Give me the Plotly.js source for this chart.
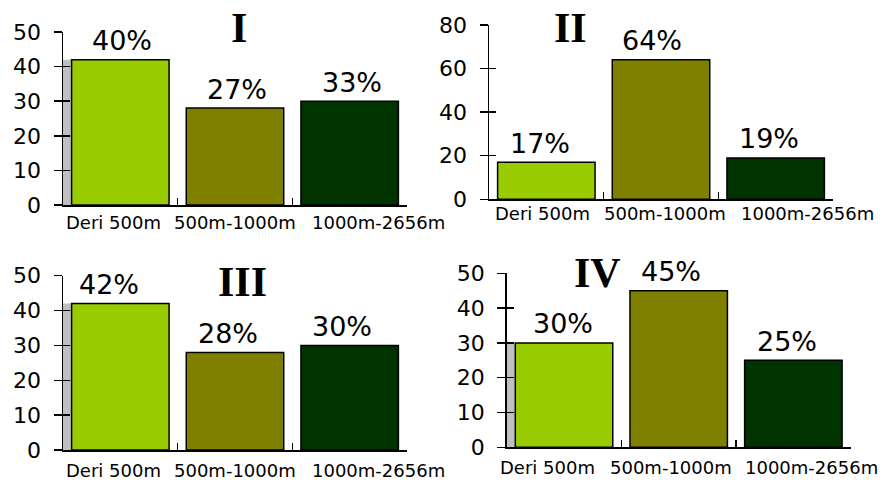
<!DOCTYPE html>
<html>
<head>
<meta charset="utf-8">
<script src="https://cdn.plot.ly/plotly-3.0.1.min.js"></script>
<style>
  html, body { margin: 0; padding: 0; background: #ffffff; }
  #chart { width: 887px; height: 482px; }
</style>
</head>
<body>
<div id="chart"></div>
<script>
// ---- data ----
const categories = ['Deri 500m', '500m-1000m', '1000m-2656m'];
const panelTitles = ['I', 'II', 'III', 'IV'];

const valuesI = [42, 28, 30];
const labelsI = ['40%', '27%', '33%'];
const valuesII = [17, 64, 19];
const labelsII = ['17%', '64%', '19%'];
const valuesIII = [42, 28, 30];
const labelsIII = ['42%', '28%', '30%'];
const valuesIV = [30, 45, 25];
const labelsIV = ['30%', '45%', '25%'];

const yTicksSmall = [0, 10, 20, 30, 40, 50];
const yTicksLarge = [0, 20, 40, 60, 80];

// ---- style / layout ----
const W = 887, H = 482;
const barColors = ['#99cc00', '#808000', '#003300'];
const BARGAP = 0.15;
const xTickFont = { family: 'DejaVu Sans', size: 18, color: '#000000' };
const yTickFont = { family: 'DejaVu Sans', size: 22, color: '#000000' };
const pctFont = { family: 'DejaVu Sans', size: 27, color: '#000000' };
const romanFont = { family: 'Liberation Serif', size: 42, color: '#000000' };

// panel boxes in pixels: [left, right, top(value max), bottom(value 0)]
const panels = [
  { vals: valuesI,   labs: labelsI,   ticks: yTicksSmall, ymax: 50, box: [63, 407, 32, 205],
    title: [239, 28],  side: true,  nudge: [2, 2, 2],     catShift: [-7, 0, 29],   catDrop: 10 },
  { vals: valuesII,  labs: labelsII,  ticks: yTicksLarge, ymax: 80, box: [489, 833, 25, 199.3],
    title: [570, 28],  side: false, nudge: [-6, -9, -7],  catShift: [-4, 3.5, 31.5], catDrop: 6.7 },
  { vals: valuesIII, labs: labelsIII, ticks: yTicksSmall, ymax: 50, box: [63, 407, 275.7, 450],
    title: [242, 282], side: true,  nudge: [-11, -7, -8], catShift: [-7, 0, 29],   catDrop: 12.7 },
  { vals: valuesIV,  labs: labelsIV,  ticks: yTicksSmall, ymax: 50, box: [506.7, 850.7, 273.3, 447.3],
    title: [597, 273], side: true,  nudge: [-1, -8, -6],  catShift: [-17, -8, 18], catDrop: 12.7 }
];

const data = [];
const layout = {
  width: W, height: H,
  margin: { l: 0, r: 0, t: 0, b: 0, pad: 0 },
  paper_bgcolor: '#ffffff',
  plot_bgcolor: 'rgba(0,0,0,0)',
  showlegend: false,
  bargap: BARGAP,
  annotations: [],
  shapes: []
};

panels.forEach((p, i) => {
  const n = i + 1;
  const xa = 'xaxis' + (n === 1 ? '' : n);
  const ya = 'yaxis' + (n === 1 ? '' : n);
  const xr = 'x' + (n === 1 ? '' : n);
  const yr = 'y' + (n === 1 ? '' : n);
  const yOver = 'yaxis' + (n + 4);
  const yOverRef = 'y' + (n + 4);

  const [l, r, t, b] = p.box;
  layout[xa] = {
    domain: [l / W, r / W],
    anchor: yr,
    type: 'category',
    range: [-0.5, 2.5],
    showline: true, linecolor: '#000000', linewidth: 1.5,
    showgrid: false, zeroline: false,
    ticks: 'inside', ticklen: 7, tickwidth: 1.5, tickcolor: '#000000',
    tickson: 'boundaries',
    showticklabels: false,
    automargin: false,
    fixedrange: true
  };
  layout[ya] = {
    domain: [1 - b / H, 1 - t / H],
    anchor: xr,
    range: [0, p.ymax],
    tickmode: 'array', tickvals: p.ticks,
    showline: true, linecolor: '#000000', linewidth: 1.5,
    showgrid: false, zeroline: false,
    ticks: 'outside', ticklen: 8, tickwidth: 1.5, tickcolor: '#000000',
    tickfont: yTickFont,
    ticklabelstandoff: 8,
    automargin: false,
    fixedrange: true
  };
  // overlay axis for the inner half of the cross ticks
  layout[yOver] = {
    overlaying: yr,
    anchor: xr,
    side: 'left',
    range: [0, p.ymax],
    tickmode: 'array', tickvals: p.ticks,
    showline: false, showgrid: false, zeroline: false,
    ticks: 'inside', ticklen: 7, tickwidth: 1.5, tickcolor: '#000000',
    showticklabels: false,
    fixedrange: true
  };
  data.push({
    type: 'scatter', x: [], y: [], xaxis: xr, yaxis: yOverRef,
    hoverinfo: 'skip', showlegend: false
  });

  data.push({
    type: 'bar',
    x: categories,
    y: p.vals,
    xaxis: xr, yaxis: yr,
    marker: { color: barColors, line: { color: '#000000', width: 1.5 } },
    hoverinfo: 'skip'
  });

  if (p.side) {
    layout.shapes.push({
      type: 'rect', xref: xr, yref: yr, layer: 'below',
      x0: -0.5, x1: -0.5 + BARGAP / 2, y0: 0, y1: p.vals[0],
      fillcolor: '#c0c0c0', line: { width: 0 }
    });
  }

  // percentage labels above bars
  p.vals.forEach((v, k) => {
    layout.annotations.push({
      xref: xr, yref: yr, x: categories[k], y: v,
      text: p.labs[k], showarrow: false,
      xanchor: 'center', yanchor: 'bottom',
      xshift: p.nudge[k], yshift: 1.5,
      font: pctFont
    });
  });

  // category labels under the axis
  categories.forEach((c, k) => {
    layout.annotations.push({
      xref: xr, yref: yr, x: c, y: 0,
      text: c, showarrow: false,
      xanchor: 'center', yanchor: 'top',
      xshift: p.catShift[k], yshift: -(p.catDrop - 4.6),
      font: xTickFont
    });
  });

  layout.annotations.push({
    xref: 'paper', yref: 'paper',
    x: p.title[0] / W, y: 1 - p.title[1] / H,
    xanchor: 'center', yanchor: 'middle',
    text: '<b>' + panelTitles[i] + '</b>', showarrow: false,
    font: romanFont
  });
});

Plotly.newPlot('chart', data, layout, { staticPlot: true, displayModeBar: false });
</script>
</body>
</html>
